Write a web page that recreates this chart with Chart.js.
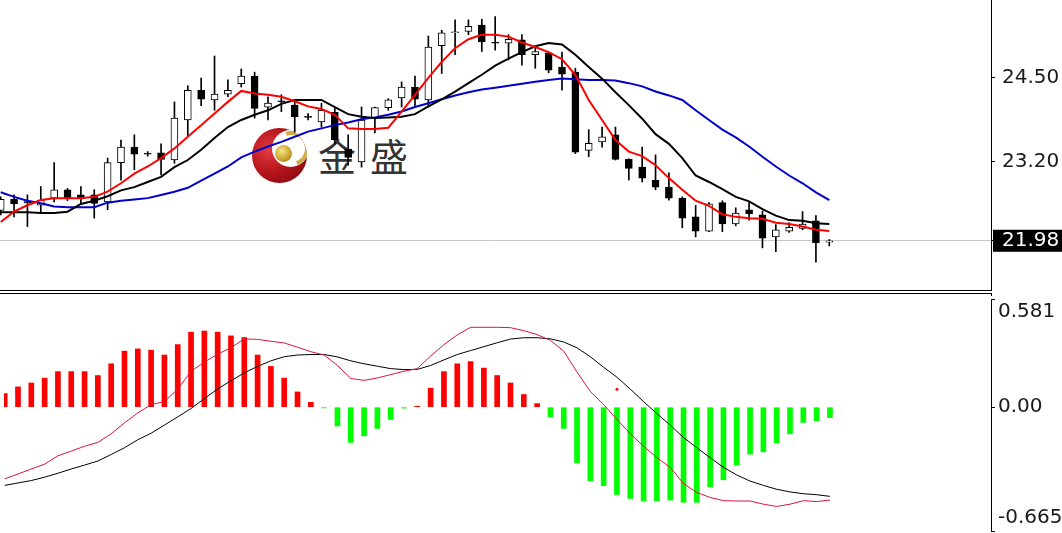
<!DOCTYPE html>
<html>
<head>
<meta charset="utf-8">
<script src="https://cdn.jsdelivr.net/npm/chart.js@4.4.1/dist/chart.umd.min.js"></script>
<style>
html,body{margin:0;padding:0;background:#fff;width:1062px;height:533px;overflow:hidden;position:relative}
canvas{position:absolute;left:0;display:block}
#top{top:0}
#bot{top:295px}
.ln{position:absolute;background:#000}
#logo{position:absolute;left:251.5px;top:128px;width:55px;height:55px;border-radius:50%;
  background:radial-gradient(circle at 30% 40%,#e33a41 0%,#b5141c 45%,#7a070c 100%);overflow:hidden}
#logo .hole{position:absolute;left:20px;top:2px;width:37px;height:37px;border-radius:50%;background:#fff}
#logo .arc{position:absolute;left:22px;top:3px;width:27px;height:27px;border-radius:50%;border:4px solid transparent;
  border-top-color:#cfae45;border-right-color:#cfae45;transform:rotate(25deg)}
#logo .ball{position:absolute;left:23.5px;top:17px;width:17px;height:17px;border-radius:50%;
  background:radial-gradient(circle at 40% 35%,#f6e487 0%,#cda531 55%,#8d6b12 100%)}
#wmtext{position:absolute;left:318px;top:136px;font-family:"Noto Sans CJK SC";font-size:38px;line-height:1;color:#333;letter-spacing:14px;white-space:nowrap}
</style>
</head>
<body>
<div id="logo"><div class="hole"></div><div class="arc"></div><div class="ball"></div></div>
<div id="wmtext">金盛</div>
<canvas id="top" width="1062" height="290"></canvas>
<canvas id="bot" width="1062" height="240"></canvas>
<div class="ln" style="left:0;top:290px;width:992px;height:1px"></div>
<div class="ln" style="left:0;top:293px;width:992px;height:1px"></div>
<div class="ln" style="left:991px;top:293px;width:1px;height:3px"></div>
<script>
// ---- price candles ----
const opens  = [22.45,22.62,22.58,22.53,22.64,22.77,22.69,22.69,22.58,23.19,
                23.43,23.33,23.34,23.23,23.85,24.31,24.16,24.25,24.41,24.53,
                24.05,24.14,24.08,23.90,23.82,23.97,23.40,23.20,23.88,24.04,
                24.19,24.36,24.16,25.00,25.20,25.22,25.32,25.05,25.04,25.09,
                24.86,24.89,24.67,24.59,23.38,23.51,23.62,23.24,23.12,22.92,
                22.81,22.64,22.35,22.13,22.57,22.24,22.46,22.38,22.04,22.13,
                22.17,22.29,21.96];
const highs  = [22.66,22.69,22.69,22.82,23.19,22.79,22.82,22.77,23.26,23.54,
                23.62,23.36,23.48,24.13,24.38,24.50,24.84,24.47,24.64,24.59,
                24.21,24.24,24.13,23.95,24.11,24.05,23.62,24.05,24.05,24.18,
                24.44,24.53,25.15,25.24,25.40,25.40,25.41,25.45,25.17,25.17,
                24.96,24.90,24.90,24.65,23.70,23.74,23.74,23.25,23.43,23.31,
                23.03,22.66,22.53,22.57,22.60,22.49,22.58,22.44,22.23,22.26,
                22.43,22.37,22.00];
const lows   = [22.38,22.35,22.20,22.41,22.58,22.60,22.56,22.33,22.46,22.92,
                23.08,23.29,23.00,23.18,23.59,24.07,24.00,24.21,24.36,23.88,
                23.85,23.98,23.66,23.85,23.74,23.48,23.15,23.12,23.65,24.00,
                24.05,24.05,24.05,24.57,24.86,25.17,24.91,24.93,24.78,24.70,
                24.65,24.58,24.31,23.33,23.28,23.43,23.23,22.92,22.89,22.77,
                22.61,22.18,22.04,22.12,22.12,22.21,22.30,21.87,21.81,22.11,
                22.15,21.65,21.90];
const closes = [22.62,22.55,22.57,22.61,22.77,22.64,22.63,22.56,23.19,23.43,
                23.32,23.32,23.24,23.88,24.31,24.17,24.25,24.31,24.53,24.03,
                24.11,24.13,23.90,23.89,24.00,23.54,23.27,23.85,24.04,24.16,
                24.36,24.17,24.98,25.20,25.21,25.30,25.06,25.04,25.10,24.86,
                24.91,24.62,24.56,23.35,23.49,23.59,23.24,23.10,22.95,22.81,
                22.64,22.33,22.13,22.55,22.24,22.41,22.40,22.02,22.15,22.19,
                22.24,21.95,21.98];
// ---- moving averages ----
const maFast = [22.27,22.43,22.53,22.61,22.64,22.64,22.64,22.66,22.74,22.87,
                23.02,23.13,23.26,23.41,23.59,23.77,23.95,24.13,24.30,24.26,
                24.24,24.21,24.14,24.06,24.02,23.93,23.72,23.71,23.71,23.73,
                23.98,24.24,24.50,24.75,24.96,25.10,25.17,25.17,25.14,25.05,
                24.98,24.90,24.79,24.55,24.16,23.85,23.54,23.36,23.29,23.15,
                22.95,22.77,22.60,22.52,22.39,22.35,22.33,22.32,22.26,22.24,
                22.20,22.15,22.13];
const maMid  = [22.42,22.42,22.42,22.41,22.41,22.43,22.55,22.60,22.67,22.76,
                22.81,22.89,22.97,23.12,23.23,23.39,23.57,23.74,23.85,23.93,
                24.00,24.10,24.16,24.16,24.16,24.05,23.94,23.90,23.88,23.89,
                23.90,23.94,24.06,24.17,24.29,24.42,24.55,24.69,24.80,24.90,
                24.99,25.04,25.02,24.86,24.67,24.49,24.28,24.08,23.87,23.63,
                23.48,23.26,22.99,22.89,22.78,22.66,22.59,22.47,22.37,22.30,
                22.29,22.25,22.24];
const maSlow = [22.73,22.66,22.60,22.56,22.51,22.50,22.50,22.50,22.57,22.60,
                22.62,22.64,22.69,22.74,22.80,22.91,23.02,23.13,23.27,23.36,
                23.44,23.51,23.59,23.67,23.72,23.77,23.81,23.86,23.89,23.93,
                23.98,24.05,24.11,24.17,24.23,24.28,24.32,24.35,24.38,24.41,
                24.44,24.47,24.49,24.48,24.47,24.47,24.46,24.42,24.37,24.29,
                24.23,24.16,24.00,23.85,23.70,23.58,23.44,23.28,23.13,22.99,
                22.87,22.73,22.61];
// ---- MACD panel ----
const macdHist = [0.073,0.109,0.130,0.156,0.191,0.191,0.191,0.170,0.233,0.301,
                  0.313,0.306,0.280,0.336,0.403,0.409,0.403,0.383,0.374,0.280,
                  0.219,0.156,0.082,0.026,-0.004,-0.101,-0.189,-0.154,-0.114,-0.066,
                  -0.005,0.005,0.102,0.191,0.233,0.245,0.210,0.170,0.130,0.068,
                  0.019,-0.052,-0.114,-0.299,-0.395,-0.422,-0.469,-0.490,-0.504,-0.504,
                  -0.499,-0.511,-0.511,-0.428,-0.390,-0.311,-0.252,-0.240,-0.192,-0.143,
                  -0.082,-0.073,-0.056];
const macdDif = [-0.385,-0.359,-0.332,-0.306,-0.261,-0.236,-0.210,-0.189,-0.143,-0.084,
                 -0.031,0.014,0.030,0.097,0.193,0.242,0.285,0.319,0.367,0.364,
                 0.354,0.345,0.322,0.298,0.280,0.224,0.154,0.144,0.157,0.175,
                 0.193,0.207,0.275,0.336,0.388,0.429,0.429,0.429,0.427,0.411,
                 0.390,0.359,0.301,0.189,0.084,0.014,-0.066,-0.143,-0.210,-0.271,
                 -0.323,-0.411,-0.458,-0.485,-0.502,-0.504,-0.504,-0.521,-0.533,-0.521,
                 -0.502,-0.507,-0.499];
const macdDea = [-0.420,-0.407,-0.394,-0.376,-0.355,-0.332,-0.311,-0.289,-0.254,-0.218,
                 -0.175,-0.140,-0.096,-0.052,-0.007,0.046,0.098,0.142,0.184,0.219,
                 0.249,0.271,0.280,0.283,0.283,0.270,0.249,0.233,0.220,0.207,
                 0.202,0.203,0.224,0.254,0.283,0.304,0.325,0.346,0.366,0.373,
                 0.373,0.367,0.350,0.319,0.271,0.214,0.161,0.097,0.030,-0.035,
                 -0.096,-0.163,-0.218,-0.271,-0.323,-0.364,-0.397,-0.420,-0.441,-0.455,
                 -0.465,-0.470,-0.479];
const markIdx = [46];
const markVal = [0.096];
// ---- axes ----
const priceTicks = [25.80, 24.50, 23.20];
const lastPrice = 21.98;
const macdTicks = [0.581, 0, -0.665];
const macdTickLabels = ['0.581', '0.00', '-0.665'];

const idx = opens.map((_, i) => i);
const X_MIN = -0.052, X_MAX = 74.10;
const FONT = 'DejaVu Sans';

const xScale = {type:'linear', min:X_MIN, max:X_MAX, offset:false, display:false, grid:{offset:false}};
const common = {
  responsive:false, animation:false, events:[],
  layout:{padding:0},
  plugins:{legend:{display:false}, tooltip:{enabled:false}}
};

new Chart(document.getElementById('top'), {
  type:'bar',
  data:{datasets:[
    {type:'line', data:idx.map(i=>({x:i,y:maFast[i]})), borderColor:'#ff0000', borderWidth:2, pointRadius:0, tension:0, order:1},
    {type:'line', data:idx.map(i=>({x:i,y:maMid[i]})), borderColor:'#000000', borderWidth:2, pointRadius:0, tension:0, order:2},
    {type:'line', data:idx.map(i=>({x:i,y:maSlow[i]})), borderColor:'#0000cd', borderWidth:2, pointRadius:0, tension:0, order:3},
    {type:'bar', data:idx.map(i=>({x:i,y:[opens[i],closes[i]]})),
      backgroundColor:idx.map(i=>closes[i]>opens[i]?'#ffffff':'#000000'),
      borderColor:'#000000', borderWidth:1, borderSkipped:false, barThickness:7, minBarLength:1, grouped:false, order:4},
    {type:'bar', data:idx.map(i=>({x:i,y:[lows[i],highs[i]]})),
      backgroundColor:'#000000', borderWidth:0, barThickness:1, grouped:false, order:5}
  ]},
  options:Object.assign({}, common, {
    scales:{
      x:xScale,
      y:{type:'linear', position:'right', min:21.218, max:25.707, beginAtZero:false,
        afterBuildTicks:(s)=>{ s.ticks = priceTicks.concat([lastPrice]).map(v=>({value:v})); },
        afterFit:(s)=>{ s.width = 71; s.paddingTop = 0; s.paddingBottom = 0; },
        border:{display:true, color:'#000', width:1},
        grid:{drawOnChartArea:true, lineWidth:1, tickLength:4, tickColor:'#000',
          color:(c)=> (c.tick && c.tick.value===lastPrice) ? '#c8c8c8' : 'rgba(0,0,0,0)'},
        ticks:{autoSkip:false, padding:7, font:{family:FONT, size:20, lineHeight:1.1},
          color:(c)=> (c.tick && c.tick.value===lastPrice) ? '#ffffff' : '#1a1a1a',
          showLabelBackdrop:true,
          backdropColor:(c)=> (c.tick && c.tick.value===lastPrice) ? '#000000' : 'rgba(0,0,0,0)',
          backdropPadding:{left:9, right:12, top:0, bottom:0},
          callback:(v)=> Number(v).toFixed(2)}
      }
    }
  })
});

new Chart(document.getElementById('bot'), {
  type:'bar',
  data:{datasets:[
    {type:'line', data:markIdx.map((m,k)=>({x:m,y:markVal[k]})), showLine:false, pointRadius:1.5, pointBorderWidth:0, pointBackgroundColor:'#ff0000', order:0},
    {type:'line', data:idx.map(i=>({x:i,y:macdDif[i]})), borderColor:'#dc143c', borderWidth:1, pointRadius:0, tension:0, order:1},
    {type:'line', data:idx.map(i=>({x:i,y:macdDea[i]})), borderColor:'#000000', borderWidth:1, pointRadius:0, tension:0, order:2},
    {type:'bar', data:idx.map(i=>({x:i,y:macdHist[i]})),
      backgroundColor:idx.map(i=>macdHist[i]>=0?'#ff0000':'#00ff00'), borderWidth:0, barThickness:5, grouped:false, order:3}
  ]},
  options:Object.assign({}, common, {
    scales:{
      x:xScale,
      y:{type:'linear', position:'right', min:-0.665, max:0.581, beginAtZero:false,
        afterBuildTicks:(s)=>{ s.ticks = macdTicks.map(v=>({value:v})); },
        afterFit:(s)=>{ s.width = 71; s.paddingTop = 0; s.paddingBottom = 0; },
        border:{display:true, color:'#000', width:1},
        grid:{drawOnChartArea:false, tickLength:4, tickColor:'#000'},
        ticks:{autoSkip:false, padding:3, color:'#1a1a1a', font:{family:FONT, size:20, lineHeight:1.3},
          callback:(v, i)=>{
            const t = macdTickLabels[i];
            if (i === 0) return ['', t];
            if (i === macdTicks.length - 1) return [t, ''];
            return t;
          }}
      }
    }
  })
});
</script>
</body>
</html>
